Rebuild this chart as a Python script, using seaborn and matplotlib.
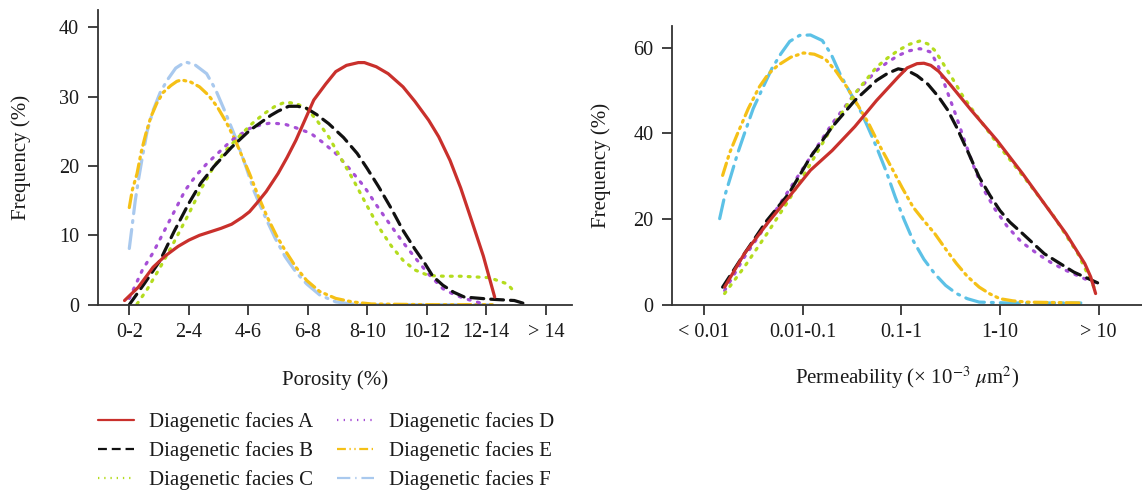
import matplotlib
matplotlib.use("Agg")
import matplotlib.pyplot as plt
from matplotlib.lines import Line2D
import seaborn as sns

# ---------------- data ----------------
poro_labels = ["0-2", "2-4", "4-6", "6-8", "8-10", "10-12", "12-14", "> 14"]
perm_labels = ["< 0.01", "0.01-0.1", "0.1-1", "1-10", "> 10"]
facies = ["Diagenetic facies A", "Diagenetic facies B", "Diagenetic facies C",
          "Diagenetic facies D", "Diagenetic facies E", "Diagenetic facies F"]

# Porosity panel (x in class-index units, 0 = "0-2")
poro_A_x = [-0.08, 0.15, 0.4, 0.6, 0.82, 1.0, 1.18, 1.36, 1.54, 1.72, 1.9, 2.02, 2.14, 2.3, 2.5, 2.65, 2.8, 2.95,
            3.1, 3.3, 3.47, 3.65, 3.85, 3.95, 4.15, 4.35, 4.6, 4.8, 5.03, 5.2, 5.39, 5.57, 5.75, 5.95, 6.14]
poro_A_y = [0.6, 2.5, 5.4, 7.0, 8.4, 9.3, 10.0, 10.5, 11.0, 11.6, 12.6, 13.4, 14.6, 16.3, 18.9, 21.2, 23.7, 26.6,
            29.5, 31.8, 33.6, 34.5, 34.9, 34.9, 34.3, 33.3, 31.4, 29.3, 26.6, 24.2, 20.8, 16.8, 12.2, 7.0, 1.1]
poro_B_x = [0, 0.25, 0.52, 0.75, 1.0, 1.2, 1.42, 1.72, 2.02, 2.38, 2.5, 2.68, 2.83, 2.98, 3.15, 3.35, 3.6, 3.83,
            4.0, 4.19, 4.4, 4.6, 4.8, 4.97, 5.1, 5.27, 5.45, 5.63, 6.05, 6.47, 6.7]
poro_B_y = [0, 3.0, 6.4, 10.5, 14.6, 17.5, 19.9, 22.7, 25.1, 27.3, 27.9, 28.6, 28.6, 28.3, 27.4, 26.1, 24.1, 21.8,
            19.6, 17.0, 13.9, 10.7, 8.0, 5.9, 4.1, 2.8, 1.8, 1.1, 0.8, 0.6, 0]
poro_C_x = [0.13, 0.3, 0.52, 0.75, 1.0, 1.2, 1.42, 1.63, 1.84, 2.05, 2.26, 2.45, 2.62, 2.8, 2.98, 3.15, 3.35, 3.55,
            3.77, 3.98, 4.19, 4.4, 4.6, 4.8, 5.03, 5.3, 5.57, 6.05, 6.35, 6.5]
poro_C_y = [0.1, 2.2, 5.4, 9.0, 13.1, 16.6, 19.9, 22.3, 24.2, 26.0, 27.5, 28.6, 29.2, 29.0, 28.3, 26.6, 24.2, 21.2,
            17.9, 14.5, 11.2, 8.5, 6.4, 5.0, 4.2, 4.1, 4.1, 3.9, 3.0, 1.6]
poro_D_x = [0, 0.22, 0.4, 0.58, 0.76, 0.94, 1.12, 1.3, 1.72, 2.02, 2.2, 2.38, 2.62, 2.8, 3.05, 3.25, 3.47, 3.7,
            3.95, 4.15, 4.37, 4.58, 4.79, 5.03, 5.27, 5.45, 5.63, 5.96]
poro_D_y = [0.9, 5.0, 7.5, 10.5, 13.5, 16.5, 18.6, 20.3, 23.7, 25.4, 25.9, 26.2, 26.0, 25.5, 24.7, 23.4, 21.8, 19.6,
            17.0, 14.4, 11.7, 9.2, 6.9, 4.4, 2.3, 1.5, 0.9, 0.1]
poro_E_x = [0, 0.05, 0.13, 0.2, 0.28, 0.36, 0.46, 0.57, 0.7, 0.8, 0.88, 1.03, 1.18, 1.33, 1.48, 1.63, 1.78, 1.9,
            2.02, 2.17, 2.32, 2.47, 2.62, 2.8, 2.98, 3.2, 3.47, 3.75, 4.07, 5.03, 6.1]
poro_E_y = [14, 16.5, 18.9, 22.0, 24.7, 27.0, 29.0, 30.6, 31.6, 32.2, 32.4, 32.1, 31.4, 30.2, 28.5, 26.3, 23.7, 21.3,
            18.9, 15.6, 12.6, 10.0, 7.8, 5.4, 3.5, 1.9, 0.9, 0.4, 0.1, 0, 0]
poro_F_x = [0, 0.05, 0.1, 0.16, 0.22, 0.3, 0.4, 0.52, 0.64, 0.78, 0.94, 1.1, 1.3, 1.45, 1.6, 1.78, 1.96, 2.1,
            2.26, 2.45, 2.62, 2.8, 2.98, 3.2, 3.47, 3.83, 5.0, 6.1]
poro_F_y = [8.1, 11.5, 15.0, 18.3, 21.3, 25.0, 28.0, 30.6, 32.4, 34.1, 35.0, 34.6, 33.3, 31.0, 28.0, 24.2, 19.9, 16.3,
            13.1, 9.6, 6.9, 4.7, 3.0, 1.4, 0.4, 0, 0, 0]

# Permeability panel (x in class-index units, 0 = "< 0.01")
perm_A_x = [0.21, 0.41, 0.64, 0.86, 1.08, 1.3, 1.53, 1.75, 1.97, 2.06, 2.16, 2.23, 2.3, 2.38, 2.49, 2.71, 2.97,
            3.23, 3.45, 3.67, 3.86, 3.92, 3.97]
perm_A_y = [4.1, 11.9, 18.9, 25.1, 31.4, 36.0, 41.6, 47.7, 53.2, 55.3, 56.3, 56.4, 55.9, 54.5, 51.6, 45.4, 38.4,
            30.6, 23.6, 16.6, 9.6, 6.5, 2.6]
perm_B_x = [0.19, 0.41, 0.64, 0.86, 1.08, 1.3, 1.53, 1.75, 1.86, 1.97, 2.07, 2.16, 2.27, 2.38, 2.47, 2.56, 2.68,
            2.79, 2.9, 3.0, 3.1, 3.23, 3.45, 3.75, 3.99]
perm_B_y = [4.1, 11.9, 19.7, 25.9, 34.5, 41.5, 47.7, 52.4, 54.0, 55.1, 54.6, 53.5, 51.5, 48.5, 45.5, 41.5, 35.5,
            29.8, 25.5, 22.0, 19.3, 16.6, 11.9, 7.6, 5.1]
perm_C_x = [0.21, 0.41, 0.64, 0.86, 1.08, 1.3, 1.53, 1.75, 1.86, 1.97, 2.08, 2.19, 2.27, 2.34, 2.42, 2.53, 2.63,
            2.75, 3.0, 3.27, 3.53, 3.79, 3.97]
perm_C_y = [2.6, 8.8, 16.6, 24.4, 32.9, 41.5, 49.3, 55.5, 57.6, 59.4, 60.8, 61.6, 60.9, 59.4, 56.5, 52.4, 48.5,
            44.6, 36.8, 29.0, 21.2, 11.9, 3.3]
perm_D_x = [0.21, 0.41, 0.64, 0.86, 1.08, 1.3, 1.53, 1.75, 1.86, 1.97, 2.08, 2.19, 2.3, 2.38, 2.45, 2.55, 2.64,
            2.73, 2.82, 2.95, 3.08, 3.22, 3.38, 3.52, 3.67, 3.97]
perm_D_y = [3.3, 11.1, 18.9, 26.7, 34.5, 42.3, 49.3, 54.7, 56.6, 58.2, 59.3, 59.8, 59.0, 55.5, 50.8, 44.5, 38.4,
            32.6, 27.5, 22.3, 18.1, 14.6, 11.9, 9.8, 8.0, 4.9]
perm_E_x = [0.19, 0.26, 0.34, 0.45, 0.56, 0.65, 0.75, 0.88, 1.01, 1.12, 1.23, 1.34, 1.45, 1.56, 1.67, 1.78, 1.9,
            2.01, 2.12, 2.23, 2.34, 2.45, 2.56, 2.67, 2.79, 2.9, 3.0, 3.13, 3.27, 3.82]
perm_E_y = [30.2, 35.4, 39.9, 45.8, 50.8, 53.8, 55.9, 57.8, 58.8, 58.5, 57.4, 54.5, 50.8, 46.6, 42.3, 37.2, 32.1,
            27.3, 22.8, 19.6, 16.6, 13.0, 9.6, 6.6, 4.1, 2.5, 1.4, 0.9, 0.6, 0.4]
perm_F_x = [0.16, 0.21, 0.27, 0.34, 0.41, 0.5, 0.6, 0.69, 0.78, 0.87, 0.97, 1.08, 1.2, 1.29, 1.38, 1.47, 1.57,
            1.66, 1.75, 1.85, 1.94, 2.03, 2.12, 2.23, 2.34, 2.45, 2.56, 2.67, 2.79, 3.08, 3.82]
perm_F_y = [20.1, 25.3, 29.8, 35.2, 39.9, 45.8, 50.8, 55.2, 58.6, 61.5, 62.9, 63.0, 61.7, 58.5, 53.9, 50.0, 46.1,
            41.6, 36.8, 31.0, 25.1, 19.8, 15.0, 10.6, 7.2, 4.5, 2.6, 1.4, 0.6, 0.4, 0.4]

# ---------------- style ----------------
sns.set_theme(style="ticks")
plt.rcParams["font.family"] = ["Liberation Serif", "DejaVu Serif"]
plt.rcParams["mathtext.fontset"] = "stix"

styles = {
    "A": dict(color="#c9302c", ls="-"),
    "B": dict(color="#111111", ls=(0, (4.0, 2.2))),
    "C": dict(color="#b4dc1e", ls=(0, (0.6, 2.2))),
    "D": dict(color="#a64fd6", ls=(0, (0.6, 2.4))),
    "E": dict(color="#f5c016", ls=(0, (4.0, 1.6, 0.6, 1.6, 0.6, 1.6))),
    "F": dict(color="#a9c9ee", ls=(0, (6.0, 2.2, 0.6, 2.2))),
}
perm_F_color = "#5cc1e6"

fig = plt.figure(figsize=(11.42, 4.93), dpi=100)
ax1 = fig.add_axes([0.0856, 0.382, 0.4153, 0.598])
ax2 = fig.add_axes([0.5887, 0.382, 0.4113, 0.5653])

poro_series = {"A": (poro_A_x, poro_A_y), "B": (poro_B_x, poro_B_y), "C": (poro_C_x, poro_C_y),
               "D": (poro_D_x, poro_D_y), "E": (poro_E_x, poro_E_y), "F": (poro_F_x, poro_F_y)}
perm_series = {"A": (perm_A_x, perm_A_y), "B": (perm_B_x, perm_B_y), "C": (perm_C_x, perm_C_y),
               "D": (perm_D_x, perm_D_y), "E": (perm_E_x, perm_E_y), "F": (perm_F_x, perm_F_y)}

order_draw = ["F", "E", "D", "C", "B", "A"]
for ax, series in ((ax1, poro_series), (ax2, perm_series)):
    for k in order_draw:
        xs, ys = series[k]
        col = styles[k]["color"]
        if ax is ax2 and k == "F":
            col = perm_F_color
        sns.lineplot(x=xs, y=ys, ax=ax, color=col, lw=2.3, sort=False, estimator=None)
        ln = ax.lines[-1]
        ln.set_linestyle(styles[k]["ls"])
        ln.set_solid_joinstyle("round")
        ln.set_dash_joinstyle("round")
        ln.set_dash_capstyle("round")

ax1.set_xlim(-0.53, 7.44)
ax1.set_ylim(0, 42.5)
ax1.set_xticks(range(len(poro_labels)))
ax1.set_xticklabels(poro_labels)
ax1.set_yticks([0, 10, 20, 30, 40])
ax1.set_xlabel("Porosity (%)", labelpad=20)
ax1.set_ylabel("Frequency (%)", labelpad=20)

ax2.set_xlim(-0.32, 4.44)
ax2.set_ylim(0, 65.1)
ax2.set_xticks(range(len(perm_labels)))
ax2.set_xticklabels(perm_labels)
ax2.set_yticks([0, 20, 40, 60])
ax2.set_xlabel("Permeability (× 10$^{-3}$ $\\mu$m$^{2}$)", labelpad=16)
ax2.set_ylabel("Frequency (%)", labelpad=16)

for ax in (ax1, ax2):
    sns.despine(ax=ax)
    for s in ("left", "bottom"):
        ax.spines[s].set_color("#333333")
        ax.spines[s].set_linewidth(1.3)
    ax.tick_params(axis="both", direction="out", length=7.5, width=1.3, color="#333333",
                   labelsize=14.5, labelcolor="#1a1a1a", pad=6)
    ax.xaxis.label.set_size(15)
    ax.yaxis.label.set_size(15)
    ax.xaxis.label.set_color("#1a1a1a")
    ax.yaxis.label.set_color("#1a1a1a")
    ax.patch.set_alpha(0)

# legend
leg_handles = []
for k in ["A", "B", "C", "D", "E", "F"]:
    st = styles[k]
    leg_handles.append(Line2D([], [], color=st["color"], lw=1.6, ls=st["ls"]))
leg = fig.legend(leg_handles, facies, ncol=2, loc="upper left",
                 bbox_to_anchor=(0.0784, 0.1805), frameon=False, fontsize=15,
                 handlelength=1.75, handletextpad=0.72, columnspacing=1.15,
                 labelspacing=0.43, borderaxespad=0.0)
for t in leg.get_texts():
    t.set_color("#1a1a1a")

fig.savefig("out.png", dpi=100)
